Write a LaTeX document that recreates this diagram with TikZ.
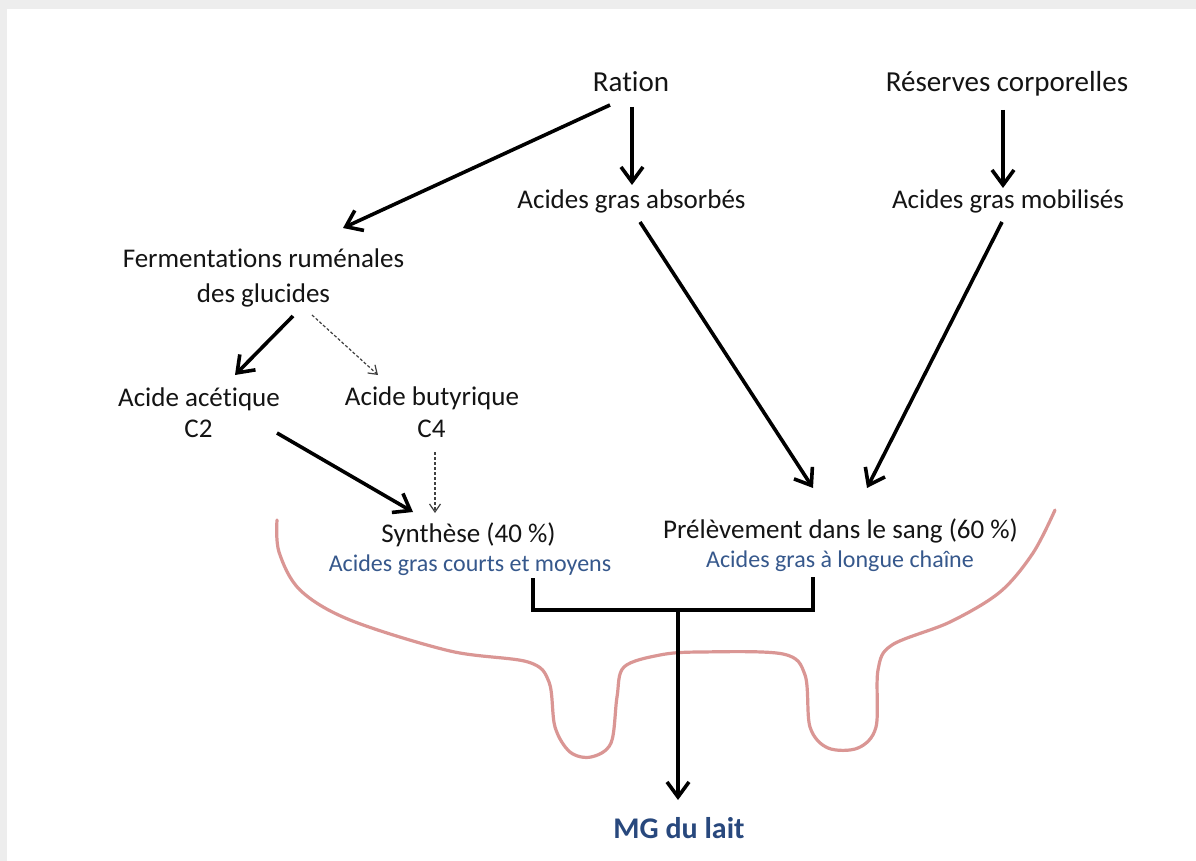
\documentclass[tikz,border=0pt]{standalone}
\usepackage{fontspec}
\setmainfont{Carlito}[Ligatures={NoCommon,NoRare,NoContextual}]
\usetikzlibrary{arrows.meta,calc}
\definecolor{txt}{RGB}{20,20,20}
\definecolor{subblue}{RGB}{54,88,140}
\definecolor{mgblue}{RGB}{40,72,125}
\definecolor{pinkline}{RGB}{218,150,148}
\tikzset{
  big/.style={anchor=base, inner sep=0pt, text=txt, font=\fontsize{29pt}{34pt}\selectfont},
  lab/.style={anchor=base, inner sep=0pt, text=txt, font=\fontsize{27pt}{32pt}\selectfont},
  sub/.style={anchor=base, inner sep=0pt, text=subblue, font=\fontsize{24pt}{28pt}\selectfont},
  final/.style={anchor=base, inner sep=0pt, text=mgblue, font=\fontsize{30pt}{34pt}\selectfont\bfseries},
  arr/.style={line width=3.6pt, draw=black, -{Straight Barb[length=15pt, width=22pt]}},
  darr/.style={line width=1.2pt, draw=black!75, dash pattern=on 3pt off 2pt, -{Straight Barb[length=8pt, width=11pt]}},
  brk/.style={line width=3.6pt, draw=black},
  gland/.style={line width=3.2pt, draw=pinkline, line cap=round}
}
\begin{document}
\begin{tikzpicture}[x=1pt, y=-1pt]
\useasboundingbox (0,0) rectangle (1196,861);
\fill[black!7] (0,0) rectangle (1196,861);
\fill[white] (7,9) rectangle (1196,861);

% nodes
\node[big] (ration) at (631,92) {Ration};
\node[big] (reserves) at (1007,92) {Réserves corporelles};
\node[lab] (absorb) at (631.5,208) {Acides gras absorbés};
\node[lab] (mobil) at (1008,208) {Acides gras mobilisés};
\node[lab] (ferm1) at (263.5,267) {Fermentations ruménales};
\node[lab] (ferm2) at (263.5,302) {des glucides};
\node[lab] (acet) at (199,406) {Acide acétique};
\node[lab] (c2) at (198.5,437) {C2};
\node[lab] (buty) at (432,405) {Acide butyrique};
\node[lab] (c4) at (431.5,437) {C4};
\node[lab] (syn) at (468.5,542) {Synthèse (40 \%)};
\node[sub] (syn2) at (470,571) {Acides gras courts et moyens};
\node[lab] (prel) at (840.5,538) {Prélèvement dans le sang (60 \%)};
\node[sub] (prel2) at (840,567) {Acides gras à longue chaîne};
\node[final] (mg) at (679,838) {MG du lait};

% gland outline
\draw[gland] plot[smooth, tension=0.55] coordinates {
 (277,520) (279,552) (300,590) (350,620) (450,651) (528,662) (549,682)
 (555,727) (570,752) (591,757) (611,743) (617,697) (624,667) (660,655)
 (700,652) (783,654) (805,675) (810,727) (828,748) (858,748) (876,727)
 (878,670) (892,645) (950,622) (1000,592) (1033,553) (1055,510)};

% arrows
\draw[arr] ([shift={(-21,13)}]ration.base) -- ([shift={(79.5,-39)}]ferm1.base);
\draw[arr] ([shift={(1,15)}]ration.base) -- ([shift={(0.5,-23)}]absorb.base);
\draw[arr] ([shift={(-4,18)}]reserves.base) -- ([shift={(-5,-20)}]mobil.base);
\draw[arr] ([shift={(29.5,14)}]ferm2.base) -- ([shift={(36,-31)}]acet.base);
\draw[darr] ([shift={(48.5,13)}]ferm2.base) -- ([shift={(-54,-30)}]buty.base);
\draw[arr] ([shift={(78.5,-4)}]c2.base) -- ([shift={(-55.5,-30)}]syn.base);
\draw[darr] ([shift={(3.5,15)}]c4.base) -- ([shift={(-33.5,-29)}]syn.base);
\draw[arr] ([shift={(8.5,14)}]absorb.base) -- ([shift={(-27.5,-50)}]prel.base);
\draw[arr] ([shift={(-6,14)}]mobil.base) -- ([shift={(26.5,-50)}]prel.base);

% bracket and trunk
\draw[brk] ([shift={(63,7)}]syn2.base) |- (678,610) -| ([shift={(-27,10)}]prel2.base);
\coordinate (J) at (678,610);
\draw[arr] (J) -- ([shift={(-1,-38)}]mg.base);
\end{tikzpicture}
\end{document}
